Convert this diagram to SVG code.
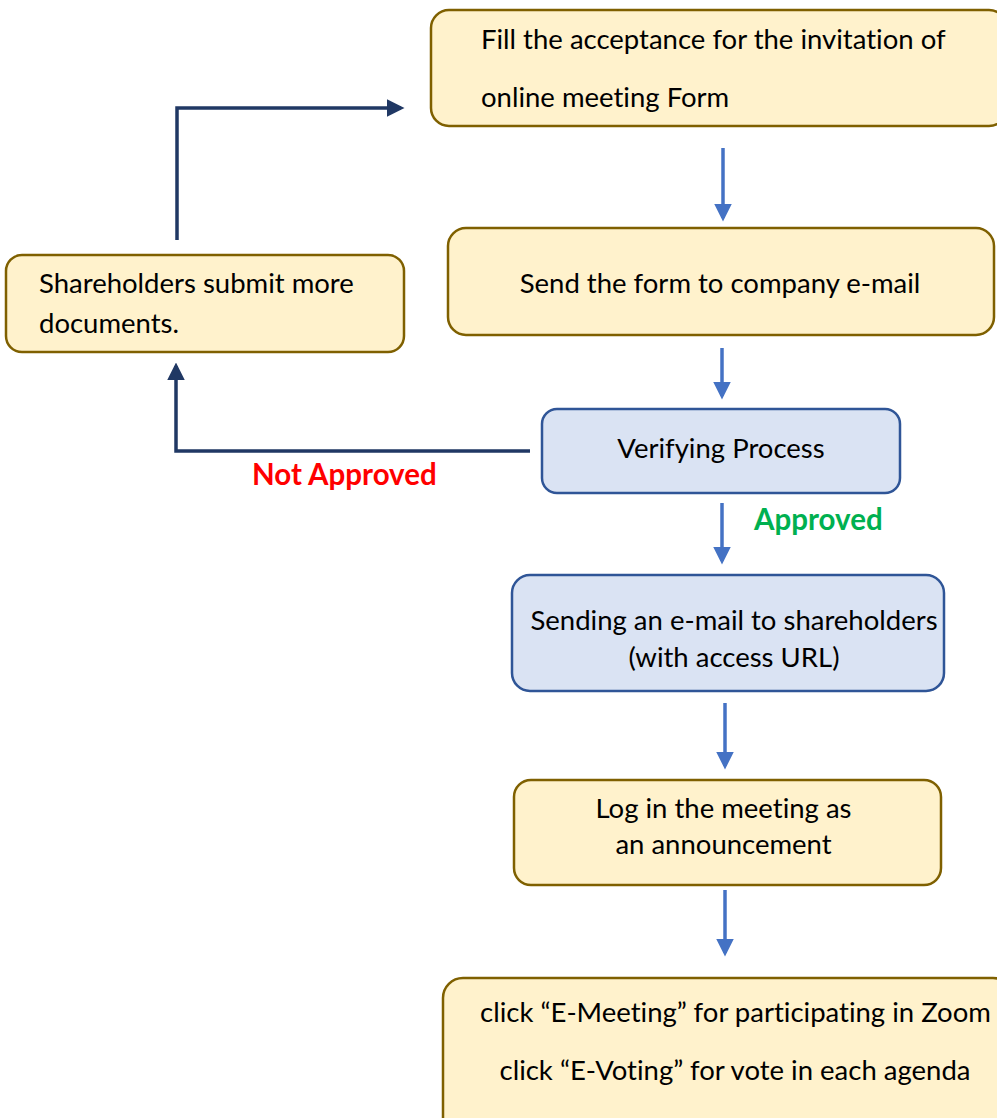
<svg xmlns="http://www.w3.org/2000/svg" width="997" height="1118" viewBox="0 0 997 1118">
<style>
.y{fill:#fff2cc;stroke:#7f6000;stroke-width:2.5}
.b{fill:#dae3f3;stroke:#2f5597;stroke-width:2.5}
text{font-family:Lato,"Open Sans","Liberation Sans",sans-serif;font-size:27.5px;fill:#000;font-variant-ligatures:none}
.c{text-anchor:middle}
.lb{font-weight:bold;font-size:29.5px}
.bl{stroke:#4472c4;stroke-width:3.5;fill:none}
.dk{stroke:#203864;stroke-width:3.5;fill:none}
</style>
<defs>
<marker id="ab" markerWidth="5" markerHeight="5" refX="4" refY="2.5" orient="auto" markerUnits="strokeWidth"><path d="M0,0 L5,2.5 L0,5 Z" fill="#4472c4"/></marker>
<marker id="ad" markerWidth="5" markerHeight="5" refX="4" refY="2.5" orient="auto" markerUnits="strokeWidth"><path d="M0,0 L5,2.5 L0,5 Z" fill="#203864"/></marker>
</defs>
<rect width="997" height="1118" fill="#fff"/>
<g id="connectors">
<line class="bl" x1="723" y1="148" x2="723" y2="218" marker-end="url(#ab)"/>
<line class="bl" x1="722" y1="348" x2="722" y2="396" marker-end="url(#ab)"/>
<line class="bl" x1="722" y1="503" x2="722" y2="561" marker-end="url(#ab)"/>
<line class="bl" x1="725" y1="703" x2="725" y2="766" marker-end="url(#ab)"/>
<line class="bl" x1="725" y1="890" x2="725" y2="953" marker-end="url(#ab)"/>
<polyline class="dk" points="530,451 176,451 176,366" marker-end="url(#ad)"/>
<polyline class="dk" points="177,240 177,108 401,108" marker-end="url(#ad)"/>
<text class="lb" x="252" y="485" style="fill:#ff0000">Not Approved</text>
<text class="lb" x="754" y="530" style="fill:#00b050">Approved</text>
</g>
<g id="n1">
<rect class="y" x="431" y="10" width="576" height="116" rx="18"/>
<text x="481" y="49">Fill the acceptance for the invitation of</text>
<text x="481" y="107">online meeting Form</text>
</g>
<g id="n2">
<rect class="y" x="448" y="228" width="546" height="107" rx="18"/>
<text class="c" x="720" y="293">Send the form to company e-mail</text>
</g>
<g id="n3">
<rect class="y" x="6" y="255" width="398" height="97" rx="16"/>
<text x="39" y="293">Shareholders submit more</text>
<text x="39" y="333">documents.</text>
</g>
<g id="n4">
<rect class="b" x="542" y="409" width="358" height="84" rx="15"/>
<text class="c" x="721" y="458">Verifying Process</text>
</g>
<g id="n5">
<rect class="b" x="512" y="575" width="432" height="116" rx="18"/>
<text class="c" x="734" y="630">Sending an e-mail to shareholders</text>
<text class="c" x="734" y="667">(with access URL)</text>
</g>
<g id="n6">
<rect class="y" x="514" y="780" width="427" height="105" rx="17"/>
<text class="c" x="723.5" y="818">Log in the meeting as</text>
<text class="c" x="723.5" y="854">an announcement</text>
</g>
<g id="n7">
<rect class="y" x="443" y="978" width="570" height="160" rx="20"/>
<text class="c" x="735.5" y="1022">click “E-Meeting” for participating in Zoom</text>
<text class="c" x="735" y="1080">click “E-Voting” for vote in each agenda</text>
</g>
</svg>
